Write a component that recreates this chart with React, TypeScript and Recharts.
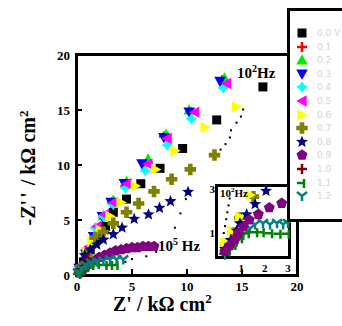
import { ScatterChart, Scatter, XAxis, YAxis } from 'recharts';

// main plot, one list per potential
const v00 = [[0.3, 0.5], [0.6, 1.2], [1.2, 2.3], [1.8, 3.3], [2.6, 4.4], [3.3, 5.7], [4.5, 6.9], [5.8, 8.3], [7.55, 9.7], [9.6, 11.5], [12.7, 14.1], [16.9, 17.1]];
const v01 = [[0.3, 0.6], [0.8, 1.8], [1.5, 3.3], [2.4, 5.3], [3.2, 6.6], [4.4, 8.1], [6.2, 10.0], [7.9, 12.6], [10.3, 14.8], [13.2, 17.7]];
const v02 = [[0.3, 0.7], [0.9, 2.0], [1.6, 3.6], [2.4, 5.4], [3.3, 6.8], [4.5, 8.5], [6.45, 10.55], [8.1, 12.8], [10.2, 15.0], [13.4, 17.9]];
const v03 = [[0.2, 0.6], [0.8, 1.9], [1.5, 3.5], [2.3, 5.3], [3.1, 6.6], [4.3, 8.3], [5.9, 10.1], [7.9, 12.5], [10.2, 14.8], [13.0, 17.6]];
const v04 = [[0.3, 0.5], [0.9, 2.0], [1.65, 4.3], [2.4, 5.35], [3.3, 6.4], [4.4, 7.9], [6.2, 9.5], [8.2, 11.8], [10.4, 14.2], [13.3, 17.0]];
const v05 = [[0.2, 0.8], [0.9, 2.45], [1.8, 4.4], [2.5, 5.5], [3.3, 6.6], [4.55, 8.3], [6.45, 10.1], [8.2, 12.4], [10.7, 14.8], [13.6, 17.4]];
const v06 = [[0.3, 0.4], [0.9, 2.1], [1.35, 3.05], [2.1, 4.1], [3.0, 5.35], [4.0, 6.6], [5.3, 8.1], [7.15, 9.6], [8.9, 11.3], [11.65, 13.4], [14.5, 15.3]];
const v07 = [[0.3, 0.6], [0.9, 1.9], [1.65, 3.4], [2.4, 3.9], [3.3, 4.7], [4.5, 5.7], [5.6, 6.5], [7.0, 7.6], [8.6, 8.7], [10.3, 9.6], [12.5, 10.9]];
const v08 = [[0.2, 0.4], [0.7, 1.8], [1.2, 2.3], [1.8, 2.75], [2.4, 3.2], [3.3, 3.7], [4.1, 4.3], [5.2, 5.1], [6.5, 5.5], [7.5, 6.1], [8.5, 6.7], [10.1, 7.55]];
const v09 = [[0.2, 0.2], [0.5, 0.4], [0.8, 0.7], [1.2, 1.0], [1.6, 1.3], [2.0, 1.6], [2.5, 1.8], [3.0, 2.0], [3.5, 2.2], [4.0, 2.3], [4.5, 2.4], [5.0, 2.5], [5.5, 2.5], [6.0, 2.6], [6.5, 2.6], [7.0, 2.6]];
const v10 = [[0.2, 0.3], [0.5, 0.8], [1.0, 1.5]];
const v11 = [[0.1, 0.1], [0.4, 0.4], [0.8, 0.7], [1.3, 0.9], [1.8, 1.0], [2.5, 0.9], [3.0, 0.9], [3.5, 0.9]];
const v12 = [[0.1, 0.2], [0.4, 0.6], [0.8, 0.9], [1.3, 1.1], [1.8, 1.2], [2.4, 1.3], [3.0, 1.4], [3.6, 1.4], [4.2, 1.4]];
const dots = [[4.4, 1.2], [5.0, 1.45], [6.3, 1.7], [7.2, 2.1], [8.9, 4.3], [9.4, 5.6], [9.9, 6.9], [13.05, 11.4], [13.5, 11.9], [13.9, 12.5], [14.0, 13.15], [14.5, 13.85], [14.9, 14.4], [15.1, 15.05]];

// inset
const in06 = [[0.3, 0.6], [0.6, 1.1], [0.93, 1.7], [1.37, 2.65]];
const in07 = [[0.35, 0.5], [0.65, 1.0], [0.94, 1.65], [1.52, 2.58]];
const in08 = [[0.3, 0.3], [0.55, 0.7], [0.8, 1.1], [0.94, 1.42], [1.23, 1.81], [1.59, 2.25], [2.06, 2.83]];
const in09 = [[0.3, 0.2], [0.5, 0.45], [0.72, 0.7], [0.87, 0.99], [1.09, 1.27], [1.34, 1.57], [1.73, 1.81], [2.2, 2.1], [2.73, 2.29]];
const in11 = [[0.4, 0.2], [0.66, 0.48], [0.94, 0.77], [1.23, 0.99], [1.59, 1.03], [1.87, 1.03], [2.23, 0.99], [2.59, 0.97], [2.95, 0.97]];
const in12 = [[0.3, 0.05], [0.51, 0.26], [0.8, 0.62], [1.09, 0.91], [1.37, 1.2], [1.59, 1.37], [1.93, 1.42], [2.23, 1.37], [2.53, 1.42], [2.79, 1.37], [3.0, 1.42]];
const inDots = [[0.1, 0.1], [0.15, 0.4], [0.2, 0.7], [0.25, 1.0], [0.3, 1.3], [0.35, 1.6], [0.4, 1.9], [0.45, 2.2], [0.5, 2.5]];

const mainTicks = [0, 5, 10, 15, 20];
const insetTicks = [1, 2, 3];
const legendLabels = ['0.0 V', '0.1', '0.2', '0.3', '0.4', '0.5', '0.6', '0.7', '0.8', '0.9', '1.0', '1.1', '1.2'];

const pts = (a: number[][]) => a.map(([x, y]) => ({ x, y }));

type Kind = 'square' | 'plus' | 'triUp' | 'triDown' | 'star4' | 'triLeft' | 'triRight' | 'cross' | 'star' | 'pent' | 'thinPlus' | 'tee' | 'wye' | 'dot';

function Marker({ cx, cy, kind, color }: { cx: number; cy: number; kind: Kind; color: string }) {
  const k = 1.15;
  const poly = (p: number[][]) => <polygon points={p.map(([a, b]) => `${cx + a * k},${cy + b * k}`).join(' ')} fill={color} />;
  switch (kind) {
    case 'square': return <rect x={cx - 4.5} y={cy - 4.5} width={9} height={9} fill={color} />;
    case 'plus':
    case 'thinPlus': return <path d={`M${cx - 5},${cy}H${cx + 5}M${cx},${cy - 5}V${cy + 5}`} stroke={color} strokeWidth={2.5} />;
    case 'triUp': return poly([[0, -5], [5, 4], [-5, 4]]);
    case 'triDown': return poly([[-5, -4], [5, -4], [0, 5]]);
    case 'triLeft': return poly([[-5, 0], [4, -5], [4, 5]]);
    case 'triRight': return poly([[5, 0], [-4, -5], [-4, 5]]);
    case 'star4': return poly([[0, -5], [2, -2], [5, 0], [2, 2], [0, 5], [-2, 2], [-5, 0], [-2, -2]]);
    case 'cross': return poly([[-2, -5], [2, -5], [2, -2], [5, -2], [5, 2], [2, 2], [2, 5], [-2, 5], [-2, 2], [-5, 2], [-5, -2], [-2, -2]]);
    case 'star': {
      const p: number[][] = [];
      for (let i = 0; i < 10; i++) {
        const r = i % 2 ? 2.4 : 5.5;
        const a = -Math.PI / 2 + (i * Math.PI) / 5;
        p.push([r * Math.cos(a), r * Math.sin(a)]);
      }
      return poly(p);
    }
    case 'pent': {
      const p: number[][] = [];
      for (let i = 0; i < 5; i++) {
        const a = -Math.PI / 2 + (i * 2 * Math.PI) / 5;
        p.push([5 * Math.cos(a), 5 * Math.sin(a)]);
      }
      return poly(p);
    }
    case 'tee': return <path d={`M${cx - 5},${cy}H${cx + 3}M${cx + 2},${cy - 4}V${cy + 5}`} stroke={color} strokeWidth={2.5} />;
    case 'wye': return <path d={`M${cx - 5},${cy - 4}L${cx},${cy}L${cx + 5},${cy - 4}M${cx},${cy}V${cy + 5}`} stroke={color} strokeWidth={2.5} fill="none" />;
    default: return <rect x={cx - 1} y={cy - 1} width={2} height={2} fill={color} />;
  }
}

const series: { data: number[][]; kind: Kind; color: string }[] = [
  { data: v00, kind: 'square', color: '#000000' },
  { data: v01, kind: 'plus', color: '#ff0000' },
  { data: v02, kind: 'triUp', color: '#00ee00' },
  { data: v03, kind: 'triDown', color: '#0000ff' },
  { data: v04, kind: 'star4', color: '#00ffff' },
  { data: v05, kind: 'triLeft', color: '#ff00ff' },
  { data: v06, kind: 'triRight', color: '#ffff00' },
  { data: v07, kind: 'cross', color: '#808000' },
  { data: v08, kind: 'star', color: '#000080' },
  { data: v09, kind: 'pent', color: '#800080' },
  { data: v10, kind: 'thinPlus', color: '#800000' },
  { data: v11, kind: 'tee', color: '#008000' },
  { data: v12, kind: 'wye', color: '#008080' },
];

const insetSeries: { data: number[][]; kind: Kind; color: string }[] = [
  { data: inDots, kind: 'dot', color: '#000000' },
  { data: in12, kind: 'wye', color: '#008080' },
  { data: in11, kind: 'tee', color: '#008000' },
  { data: in07, kind: 'cross', color: '#808000' },
  { data: in06, kind: 'triRight', color: '#ffff00' },
  { data: in08, kind: 'star', color: '#000080' },
  { data: in09, kind: 'pent', color: '#800080' },
];

const font = "'Liberation Serif', serif";

const MainYTick = (p: any) => (
  <g>
    <text x={70} y={p.y + 4.5} textAnchor="end" fontSize={13} fontWeight={700} fontFamily={font}>{p.payload.value}</text>
    {p.payload.value % 20 !== 0 && <line x1={77} x2={82} y1={p.y} y2={p.y} stroke="#000" strokeWidth={2} />}
  </g>
);
const MainXTick = (p: any) => (
  <g>
    <text x={p.x} y={291} textAnchor="middle" fontSize={13} fontWeight={700} fontFamily={font}>{p.payload.value}</text>
    {p.payload.value % 20 !== 0 && <line x1={p.x} x2={p.x} y1={274} y2={269} stroke="#000" strokeWidth={2} />}
  </g>
);
const InYTick = (p: any) => (
  <text x={p.x + 5} y={p.y + 4} textAnchor="end" fontSize={11} fontWeight={700} fontFamily={font}>{p.payload.value}</text>
);
const InXTick = (p: any) => (
  <text x={p.x} y={p.y + 8} textAnchor="middle" fontSize={11} fontWeight={700} fontFamily={font}>{p.payload.value}</text>
);

export default function App() {
  return (
    <div style={{ position: 'absolute', left: 0, top: 0, width: 342, height: 326, background: '#fff', overflow: 'hidden', fontFamily: font }}>
      <div style={{ position: 'absolute', left: 75, top: 53, width: 224, height: 224, border: '3px solid #000', boxSizing: 'border-box' }} />
      <div style={{ position: 'absolute', left: 0, top: 0 }}>
        <ScatterChart width={342} height={326} margin={{ top: 55, right: 45, bottom: 21, left: 17 }}>
          <XAxis type="number" dataKey="x" domain={[0, 20]} ticks={mainTicks} axisLine={false} tickLine={false} tick={<MainXTick />} height={30} />
          <YAxis type="number" dataKey="y" domain={[0, 20]} ticks={mainTicks} axisLine={false} tickLine={false} tick={<MainYTick />} width={60} />
          {series.map((s, i) => (
            <Scatter key={i} data={pts(s.data)} isAnimationActive={false}
              shape={(p: any) => <Marker cx={p.cx} cy={p.cy} kind={s.kind} color={s.color} />} />
          ))}
          <Scatter data={pts(dots)} isAnimationActive={false} shape={(p: any) => <Marker cx={p.cx} cy={p.cy} kind="dot" color="#000" />} />
        </ScatterChart>
      </div>

      <div style={{ position: 'absolute', left: 215, top: 184, width: 76, height: 75, border: '3px solid #000', boxSizing: 'border-box', background: '#fff' }} />
      <div style={{ position: 'absolute', left: 196, top: 180 }}>
        <ScatterChart width={100} height={95} margin={{ top: 7, right: 8, bottom: 5, left: 2 }}>
          <XAxis type="number" dataKey="x" domain={[0, 3]} ticks={insetTicks} axisLine={false} tickLine={false} tick={<InXTick />} height={14} />
          <YAxis type="number" dataKey="y" domain={[0, 3]} ticks={insetTicks} axisLine={false} tickLine={false} tick={<InYTick />} width={20} />
          {insetSeries.map((s, i) => (
            <Scatter key={i} data={pts(s.data)} isAnimationActive={false}
              shape={(p: any) => <Marker cx={p.cx} cy={p.cy} kind={s.kind} color={s.color} />} />
          ))}
        </ScatterChart>
      </div>
      <div style={{ position: 'absolute', left: 220, top: 186, fontSize: 11, fontWeight: 700 }}>10<sup style={{ fontSize: 7 }}>2</sup>Hz</div>

      <div style={{ position: 'absolute', left: 237, top: 63, fontSize: 15, fontWeight: 700, whiteSpace: 'nowrap' }}>10<sup style={{ fontSize: 10 }}>2</sup>Hz</div>
      <div style={{ position: 'absolute', left: 158, top: 236, fontSize: 15, fontWeight: 700, whiteSpace: 'nowrap' }}>10<sup style={{ fontSize: 10 }}>5</sup> Hz</div>

      <div style={{ position: 'absolute', left: 113, top: 291, fontSize: 20, fontWeight: 700, whiteSpace: 'nowrap' }}>Z' / kΩ cm<sup style={{ fontSize: 13 }}>2</sup></div>
      <div style={{ position: 'absolute', left: 28, top: 168, transform: 'translate(-50%, -50%) rotate(-90deg)', fontSize: 20, fontWeight: 700, whiteSpace: 'nowrap' }}>-Z<span style={{ letterSpacing: 2 }}>''</span> / kΩ cm<sup style={{ fontSize: 13 }}>2</sup></div>

      <div style={{ position: 'absolute', left: 287, top: 8, width: 70, height: 214, border: '3px solid #000', boxSizing: 'border-box', background: '#fff' }}>
        {legendLabels.map((l, i) => (
          <div key={i} style={{ position: 'absolute', left: 5, top: 16 + i * 13.6, height: 12, display: 'flex', alignItems: 'center' }}>
            <svg width={14} height={12}><Marker cx={7} cy={6} kind={series[i].kind} color={series[i].color} /></svg>
            <span style={{ marginLeft: 8, fontSize: 9, color: '#d4d4d4', fontFamily: "'DejaVu Sans', sans-serif" }}>{l}</span>
          </div>
        ))}
      </div>
    </div>
  );
}
